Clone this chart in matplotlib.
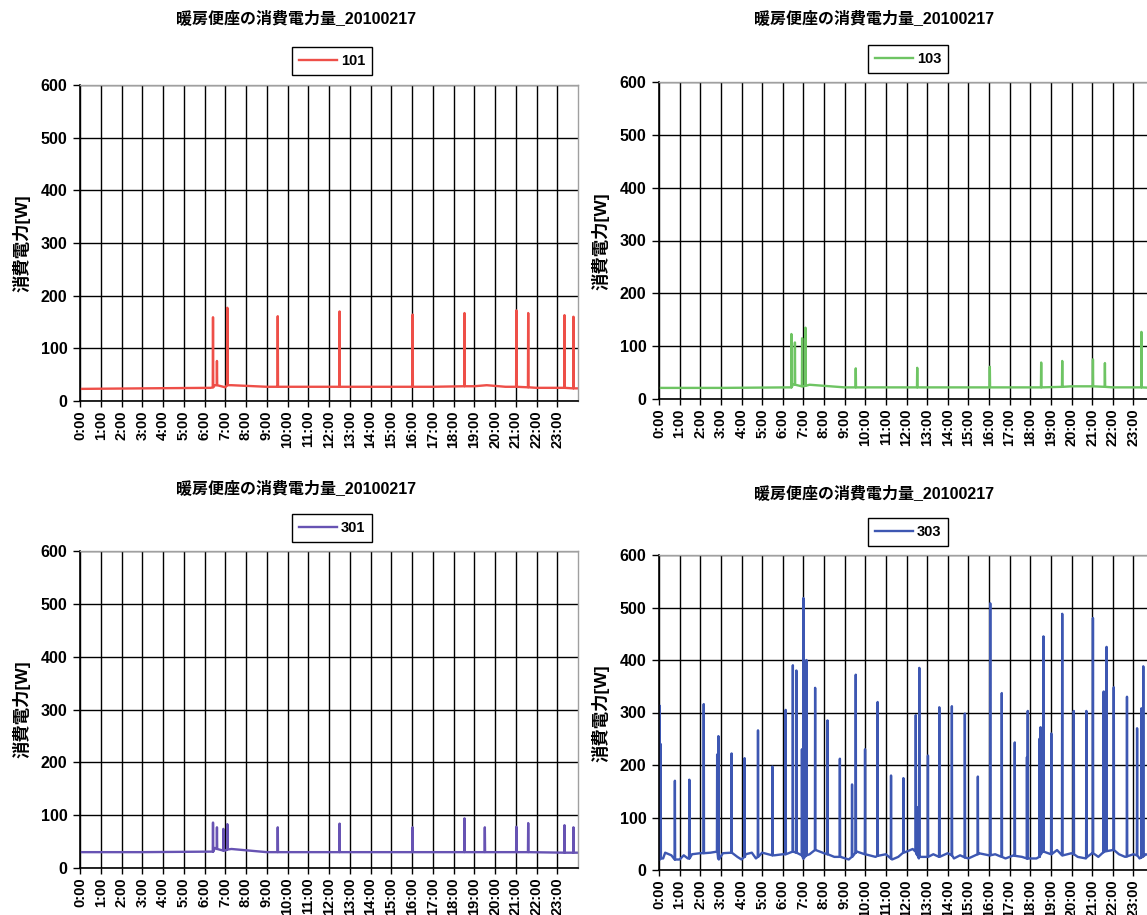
import numpy as np
import matplotlib
matplotlib.use("Agg")
import matplotlib.pyplot as plt

plt.rcParams['font.family'] = ['Liberation Sans', 'Noto Sans CJK JP']

TITLE = "暖房便座の消費電力量_20100217"
YLABEL = "消費電力[W]"
hour_labels = [f"{h}:00" for h in range(24)]
y_ticks = [0, 100, 200, 300, 400, 500, 600]

# baseline knots (hour, W) and spikes (hour, peak W, foot W)
base_101_t = [0, 3, 6.3, 6.5, 7.0, 7.3, 9, 12, 15, 17, 19, 19.6, 20.5, 22, 24]
base_101_v = [23, 24, 25, 30, 26, 30, 27, 27, 27, 27, 28, 30, 27, 25, 24]
spikes_101 = [(6.41, 159, 26), (6.6, 76, 30), (7.1, 177, 30), (9.53, 161, 27),
              (12.51, 170, 27), (16.03, 164, 27), (18.53, 167, 28), (21.03, 172, 27),
              (21.6, 167, 26), (23.35, 163, 25), (23.78, 160, 24)]

base_103_t = [0, 3, 6.3, 6.5, 7.0, 7.3, 9, 12, 15, 18, 20, 21, 22, 24]
base_103_v = [21, 21, 22, 28, 24, 27, 22, 22, 22, 22, 24, 24, 22, 21]
spikes_103 = [(6.42, 123, 22), (6.59, 107, 27), (6.94, 115, 24), (7.1, 135, 25),
              (9.54, 58, 22), (12.52, 59, 22), (16.04, 61, 22), (18.53, 69, 22),
              (19.55, 72, 23), (21.04, 75, 24), (21.62, 68, 23), (23.39, 127, 22)]

base_301_t = [0, 3, 6.3, 6.5, 7.0, 7.3, 9, 12, 15, 18, 21, 24]
base_301_v = [30, 30, 31, 38, 33, 36, 30, 30, 30, 30, 30, 29]
spikes_301 = [(6.41, 86, 31), (6.6, 77, 36), (6.91, 74, 33), (7.1, 83, 35),
              (9.53, 77, 30), (12.51, 84, 30), (16.03, 77, 30), (18.53, 94, 30),
              (19.51, 77, 30), (21.03, 78, 30), (21.6, 85, 30), (23.35, 81, 29),
              (23.78, 77, 29)]

base_303_t = [0, 0.2, 0.3, 0.6, 0.8, 1.0, 1.2, 1.4, 1.6, 2.0, 2.5, 2.8, 2.9, 3.1, 3.5,
              3.8, 4.0, 4.2, 4.5, 4.7, 5.0, 5.3, 5.6, 6.0, 6.5, 7.0, 7.3, 7.6, 8.0,
              8.5, 8.8, 9.2, 9.6, 10.0, 10.5, 11.0, 11.3, 11.6, 12.0, 12.3, 12.6,
              13.0, 13.3, 13.6, 14.0, 14.3, 14.6, 15.0, 15.5, 16.0, 16.3, 16.8,
              17.2, 17.6, 18.0, 18.3, 18.6, 19.0, 19.3, 19.6, 20.0, 20.3, 20.7,
              21.0, 21.3, 21.6, 22.0, 22.3, 22.6, 23.0, 23.3, 23.6, 24.0]
base_303_v = [20, 22, 33, 28, 20, 20, 28, 22, 30, 32, 33, 35, 20, 32, 33,
              25, 20, 30, 33, 22, 33, 30, 28, 30, 35, 22, 30, 38, 32,
              25, 25, 20, 35, 30, 25, 30, 20, 25, 35, 40, 22,
              25, 30, 25, 32, 22, 28, 22, 32, 28, 30, 22,
              28, 25, 22, 22, 35, 30, 38, 28, 32, 25, 22,
              32, 25, 35, 38, 30, 25, 30, 22, 30, 25]
spikes_303 = [(0.03, 313, 20), (0.08, 240, 22), (0.77, 170, 20), (1.47, 172, 22),
              (2.17, 316, 32), (2.82, 220, 35), (2.88, 255, 22), (3.52, 222, 33),
              (4.15, 213, 25), (4.80, 266, 25), (5.50, 197, 28), (6.14, 305, 30),
              (6.49, 390, 35), (6.66, 380, 33), (6.93, 230, 28), (7.0, 518, 22),
              (7.15, 400, 28), (7.57, 347, 38), (8.17, 285, 30), (8.77, 212, 25),
              (9.36, 163, 25), (9.54, 372, 33), (9.99, 230, 30), (10.6, 320, 27),
              (11.25, 180, 22), (11.85, 175, 33), (12.45, 295, 35), (12.5, 120, 30),
              (12.62, 385, 25), (13.04, 218, 25), (13.59, 310, 25), (14.2, 312, 28),
              (14.83, 298, 24), (15.46, 178, 30), (16.06, 508, 28), (16.62, 337, 25),
              (17.25, 243, 27), (17.84, 215, 22), (17.88, 303, 22), (18.45, 250, 25),
              (18.5, 272, 30), (18.64, 445, 35), (19.02, 260, 30), (19.55, 488, 28),
              (20.11, 303, 30), (20.72, 303, 24), (21.04, 480, 32), (21.56, 340, 34),
              (21.7, 425, 36), (22.05, 348, 38), (22.69, 330, 26), (23.18, 270, 28),
              (23.39, 308, 24), (23.48, 388, 26)]

panels = [
    ("101", "#EE4F48", base_101_t, base_101_v, spikes_101),
    ("103", "#6EC463", base_103_t, base_103_v, spikes_103),
    ("301", "#6753B3", base_301_t, base_301_v, spikes_301),
    ("303", "#3D57B2", base_303_t, base_303_v, spikes_303),
]

W, H = 1147, 915
# pixel boxes: left, right, top, bottom of plot areas
boxes = [(80, 578, 85, 401), (659, 1154, 82, 399),
         (80, 578, 551, 868), (659, 1154, 555, 870)]
title_pos = [(296, 18), (874, 18), (296, 488), (874, 493)]
legend_pos = [(332, 61), (908, 59), (332, 528), (908, 532)]
ylabel_pos = [(22, 243), (601, 241), (22, 709), (601, 713)]


def build_series(bt, bv, spikes, d=0.012):
    pts = list(zip(bt, bv))
    for t, peak, foot in spikes:
        pts += [(t - d, foot), (t, peak), (t + d, foot)]
    pts.sort()
    return [p[0] for p in pts], [p[1] for p in pts]


fig = plt.figure(figsize=(W / 100, H / 100), dpi=100)

for i, (name, color, bt, bv, spikes) in enumerate(panels):
    l, r, t, b = boxes[i]
    ax = fig.add_axes([l / W, 1 - b / H, (r - l) / W, (b - t) / H])
    xs, ys = build_series(bt, bv, spikes)
    line, = ax.plot(xs, ys, color=color, linewidth=1.7, label=name)
    ax.set_xlim(0, 24)
    ax.set_ylim(0, 600)
    ax.set_yticks(y_ticks)
    ax.set_yticklabels([str(v) for v in y_ticks], fontsize=11.5, fontweight='bold')
    ax.set_xticks(range(24))
    ax.set_xticklabels(hour_labels, rotation=90, fontsize=10.5, fontweight='bold')
    ax.tick_params(axis='x', direction='out', length=4, width=1, pad=3)
    ax.tick_params(axis='y', direction='out', length=5, width=1, pad=4)
    ax.grid(True, color='black', linewidth=1.0)
    ax.set_axisbelow(True)
    for s in ['left', 'bottom']:
        ax.spines[s].set_color('black')
        ax.spines[s].set_linewidth(1.2)
    for s in ['top', 'right']:
        ax.spines[s].set_color('#a0a0a0')
        ax.spines[s].set_linewidth(1.0)

    tx, ty = title_pos[i]
    fig.text(tx / W, 1 - ty / H, TITLE, ha='center', va='center',
             fontsize=11.5, fontweight='bold')
    yx, yy = ylabel_pos[i]
    fig.text(yx / W, 1 - yy / H, YLABEL, ha='center', va='center',
             rotation=90, fontsize=12.5, fontweight='bold')
    lx, ly = legend_pos[i]
    leg = ax.legend(handles=[line], loc='center',
                    bbox_to_anchor=(lx / W, 1 - ly / H),
                    bbox_transform=fig.transFigure, fancybox=False,
                    framealpha=1, edgecolor='black', handlelength=2.6,
                    handletextpad=0.3, borderpad=0.45,
                    prop={'size': 10.5, 'weight': 'bold'})
    leg.get_frame().set_linewidth(1.0)

fig.savefig("out.png", dpi=100)
